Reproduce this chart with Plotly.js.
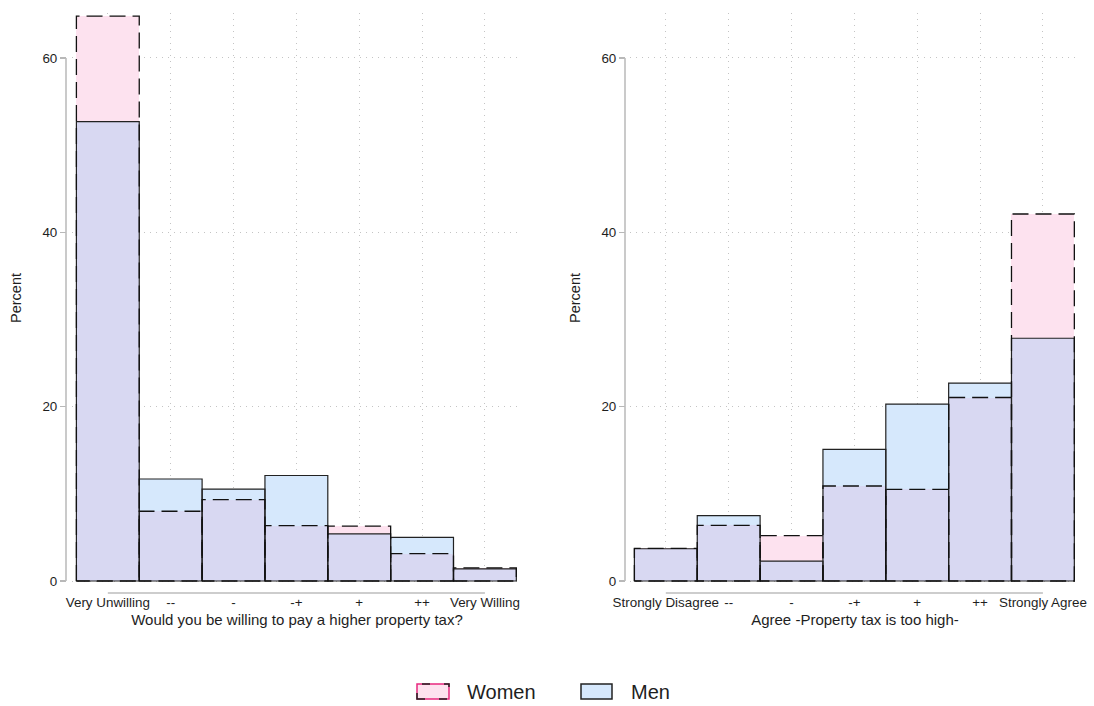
<!DOCTYPE html>
<html>
<head>
<meta charset="utf-8">
<script src="https://cdn.plot.ly/plotly-3.0.1.min.js"></script>
<style>html,body{margin:0;padding:0;background:#fff;}#chart{width:1094px;height:706px;}</style>
</head>
<body>
<div id="chart"></div>
<script>
// ---- Data (percent) ----
const catsLeft = ['Very Unwilling', '--', '-', '-+', '+', '++', 'Very Willing'];
const menLeft = [52.7, 11.7, 10.55, 12.1, 5.4, 5.0, 1.4];
const womenLeft = [64.8, 8.0, 9.33, 6.35, 6.3, 3.13, 1.5];

const catsRight = ['Strongly Disagree', '--', '-', '-+', '+', '++', 'Strongly Agree'];
const menRight = [3.7, 7.5, 2.27, 15.1, 20.3, 22.7, 27.85];
const womenRight = [3.75, 6.37, 5.2, 10.9, 10.5, 21.05, 42.1];

const yTicks = [0, 20, 40, 60];
const xTitleLeft = 'Would you be willing to pay a higher property tax?';
const xTitleRight = 'Agree -Property tax is too high-';
const yTitle = 'Percent';
const seriesNames = ['Women', 'Men'];

// ---- Styles ----
const PINK = '#fde2ef', BLUE = '#d6e8fc', LAV = '#d8d8f2';
const FONT = 'Liberation Sans, Arial, sans-serif';
const TXT = '#1e1e1e';
const BW = 1; // bar width (histogram style, bars touch)

function panel(cats, men, women, xa, ya) {
  const xs = cats.map((_, i) => i + 1);
  const overlap = men.map((m, i) => Math.min(m, women[i]));
  const ox = [], oy = [];
  women.forEach((v, i) => {
    const c = xs[i];
    ox.push(c - BW / 2, c - BW / 2, c + BW / 2, c + BW / 2, c - BW / 2, null);
    oy.push(0, v, v, 0, 0, null);
  });
  const common = {type: 'bar', x: xs, width: BW, xaxis: xa, yaxis: ya, showlegend: false, hoverinfo: 'skip'};
  return [
    Object.assign({}, common, {name: 'Women', y: women, marker: {color: PINK, line: {width: 0}}}),
    Object.assign({}, common, {name: 'Men', y: men, marker: {color: BLUE, line: {width: 0}}}),
    Object.assign({}, common, {name: 'Both', y: overlap, marker: {color: LAV, line: {width: 0}}}),
    Object.assign({}, common, {name: 'Men outline', y: men, marker: {color: 'rgba(0,0,0,0)', line: {color: '#222', width: 1.2}}}),
    {type: 'scatter', mode: 'lines', x: ox, y: oy, xaxis: xa, yaxis: ya, showlegend: false, hoverinfo: 'skip',
     line: {color: '#111', width: 1.3, dash: '16px,7px'}}
  ];
}

const data = [].concat(
  panel(catsLeft, menLeft, womenLeft, 'x', 'y'),
  panel(catsRight, menRight, womenRight, 'x2', 'y2')
);

const W = 1094, H = 706;
const gridStyle = {showgrid: true, gridcolor: '#c4c4c4', gridwidth: 1, griddash: '1px,5px', zeroline: false, showline: false};

function xAxis(domain, cats, title) {
  return Object.assign({}, gridStyle, {
    domain: domain, range: [0.43, 7.59], anchor: 'free', position: 1 - 593 / H,
    tickmode: 'array', tickvals: cats.map((_, i) => i + 1), ticktext: cats,
    ticks: '', tickfont: {family: FONT, size: 13.4, color: TXT},
    title: {text: title, font: {family: FONT, size: 15, color: TXT}, standoff: 5}
  });
}
function yAxis(pos) {
  return Object.assign({}, gridStyle, {
    domain: [1 - 583 / H, 1 - 13 / H], range: [-0.23, 65.16], anchor: 'free', position: pos,
    tickmode: 'array', tickvals: yTicks, ticks: 'outside', ticklen: 6, tickwidth: 1.3, tickcolor: '#b8b8b8',
    tickfont: {family: FONT, size: 13.4, color: TXT},
    title: {text: yTitle, font: {family: FONT, size: 14.5, color: TXT}, standoff: 16}
  });
}

const yPosL = 66 / W, yPosR = 625 / W, xLineY = 1 - 593 / H;
const axisLine = {color: '#bdbdbd', width: 1.6};

const shapes = [
  // y axis lines (span of ticks)
  {type: 'line', xref: 'paper', yref: 'y', x0: yPosL, x1: yPosL, y0: yTicks[0], y1: yTicks[yTicks.length - 1], line: axisLine},
  {type: 'line', xref: 'paper', yref: 'y2', x0: yPosR, x1: yPosR, y0: yTicks[0], y1: yTicks[yTicks.length - 1], line: axisLine},
  // x axis lines (first to last category)
  {type: 'line', xref: 'x', yref: 'paper', x0: 1, x1: catsLeft.length, y0: xLineY, y1: xLineY, line: axisLine},
  {type: 'line', xref: 'x2', yref: 'paper', x0: 1, x1: catsRight.length, y0: xLineY, y1: xLineY, line: axisLine},
  // legend keys
  {type: 'rect', xref: 'paper', yref: 'paper', x0: 417 / W, x1: 449 / W, y0: 1 - 699 / H, y1: 1 - 684 / H,
   fillcolor: PINK, line: {color: '#e8287f', width: 1.5}},
  {type: 'rect', xref: 'paper', yref: 'paper', x0: 417 / W, x1: 449 / W, y0: 1 - 699 / H, y1: 1 - 684 / H,
   fillcolor: 'rgba(0,0,0,0)', line: {color: '#222', width: 1.5, dash: '8px,14px'}},
  {type: 'rect', xref: 'paper', yref: 'paper', x0: 581 / W, x1: 612 / W, y0: 1 - 699 / H, y1: 1 - 684 / H,
   fillcolor: BLUE, line: {color: '#222', width: 1.5}}
];

const annotations = [
  {xref: 'paper', yref: 'paper', x: 465 / W, y: 1 - 692 / H, xanchor: 'left', yanchor: 'middle', showarrow: false,
   text: seriesNames[0], font: {family: FONT, size: 20, color: TXT}},
  {xref: 'paper', yref: 'paper', x: 629 / W, y: 1 - 692 / H, xanchor: 'left', yanchor: 'middle', showarrow: false,
   text: seriesNames[1], font: {family: FONT, size: 20, color: TXT}}
];

const layout = {
  width: W, height: H,
  margin: {l: 0, r: 0, t: 0, b: 0},
  paper_bgcolor: '#fff', plot_bgcolor: '#fff',
  barmode: 'overlay', bargap: 0,
  showlegend: false,
  font: {family: FONT, color: TXT},
  xaxis: xAxis([72 / W, 522 / W], catsLeft, xTitleLeft),
  yaxis: yAxis(yPosL),
  xaxis2: xAxis([630 / W, 1080 / W], catsRight, xTitleRight),
  yaxis2: yAxis(yPosR),
  shapes: shapes,
  annotations: annotations
};

Plotly.newPlot('chart', data, layout, {displayModeBar: false, staticPlot: true});
</script>
</body>
</html>
